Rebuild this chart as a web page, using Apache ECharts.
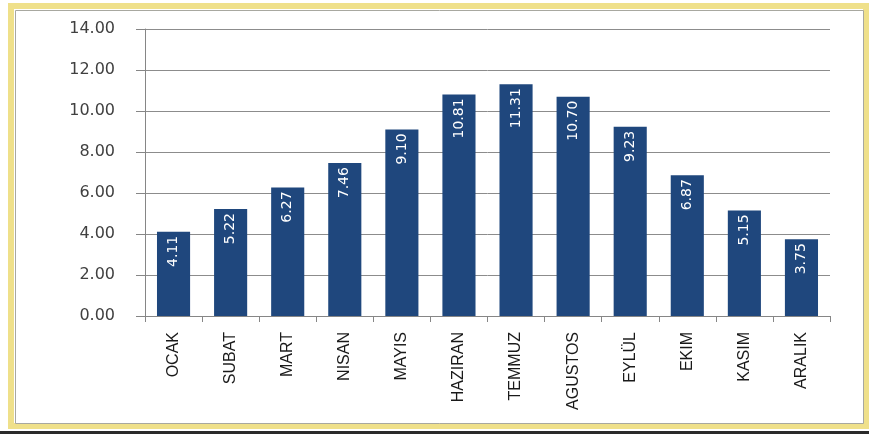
<!DOCTYPE html>
<html>
<head>
<meta charset="utf-8">
<script src="https://cdn.jsdelivr.net/npm/echarts@6/dist/echarts.min.js"></script>
<style>
  html, body { margin: 0; padding: 0; background: #ffffff; }
  #chart { width: 869px; height: 434px; }
</style>
</head>
<body>
<div id="chart"></div>
<script>
// Monthly values
const months = ['OCAK', 'SUBAT', 'MART', 'NISAN', 'MAYIS', 'HAZIRAN', 'TEMMUZ', 'AGUSTOS', 'EYLÜL', 'EKIM', 'KASIM', 'ARALIK'];
const values = [4.11, 5.22, 6.27, 7.46, 9.10, 10.81, 11.31, 10.70, 9.23, 6.87, 5.15, 3.75];
const yTicks = [0, 2, 4, 6, 8, 10, 12, 14];

const chart = echarts.init(document.getElementById('chart'), null, { renderer: 'canvas' });

chart.setOption({
  backgroundColor: '#ffffff',
  animation: false,
  graphic: [
    // golden outer frame
    { type: 'rect', shape: { x: 11, y: 6, width: 855, height: 420 }, style: { fill: 'none', stroke: '#efe08a', lineWidth: 6 }, z: -2 },
    // inner thin grey frame
    { type: 'rect', shape: { x: 15.5, y: 10.5, width: 848, height: 413 }, style: { fill: 'none', stroke: '#a8a8a0', lineWidth: 1 }, z: -1 },
    // dark base line
    { type: 'rect', shape: { x: 0, y: 431, width: 869, height: 3 }, style: { fill: '#2a2a2a' }, z: -1 }
  ],
  grid: { left: 145, right: 39, top: 29, bottom: 118, containLabel: false },
  xAxis: {
    type: 'category',
    data: months,
    axisLine: { lineStyle: { color: '#868686', width: 1 } },
    axisTick: { show: true, length: 6, lineStyle: { color: '#868686' } },
    axisLabel: {
      rotate: 90,
      interval: 0,
      margin: 16,
      color: '#1a1a1a',
      fontSize: 16,
      fontFamily: "'Liberation Sans', Arial, sans-serif"
    }
  },
  yAxis: {
    type: 'value',
    min: yTicks[0],
    max: yTicks[yTicks.length - 1],
    interval: 2,
    axisLine: { show: true, lineStyle: { color: '#868686', width: 1 } },
    axisTick: { show: true, length: 9, lineStyle: { color: '#868686' } },
    splitLine: { show: true, lineStyle: { color: '#8c8c8c', width: 1 } },
    axisLabel: {
      margin: 30,
      color: '#404040',
      fontSize: 16,
      fontFamily: "'DejaVu Sans', Verdana, sans-serif",
      formatter: v => v.toFixed(2)
    }
  },
  series: [{
    type: 'bar',
    data: values,
    barCategoryGap: '42%',
    itemStyle: { color: '#1f477d' },
    label: {
      show: true,
      position: 'insideTop',
      rotate: 90,
      align: 'right',
      verticalAlign: 'middle',
      distance: 4,
      color: '#ffffff',
      fontSize: 14,
      fontFamily: "'DejaVu Sans', sans-serif",
      formatter: p => p.value.toFixed(2)
    }
  }]
});
</script>
</body>
</html>
